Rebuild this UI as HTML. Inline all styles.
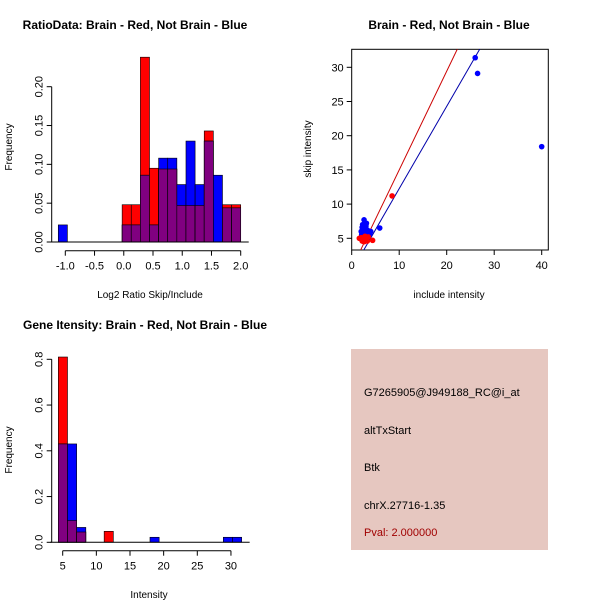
<!DOCTYPE html>
<html><head><meta charset="utf-8"><style>
body{margin:0;background:#fff}
svg{display:block;font-family:"Liberation Sans",sans-serif}
</style></head><body>
<svg id="c" width="600" height="600" xmlns="http://www.w3.org/2000/svg">
<rect width="600" height="600" fill="#fff"/>
<text x="135" y="29" font-size="12" font-weight="bold" text-anchor="middle">RatioData: Brain - Red, Not Brain - Blue</text>
<text x="449" y="29" font-size="12" font-weight="bold" text-anchor="middle">Brain - Red, Not Brain - Blue</text>
<text x="145" y="329" font-size="12" font-weight="bold" text-anchor="middle">Gene Itensity: Brain - Red, Not Brain - Blue</text>
<text x="150" y="298" font-size="10" text-anchor="middle">Log2 Ratio Skip/Include</text>
<text transform="translate(12,147) rotate(-90)" font-size="10" text-anchor="middle">Frequency</text>
<text x="449" y="298" font-size="10" text-anchor="middle">include intensity</text>
<text transform="translate(311,149) rotate(-90)" font-size="10" text-anchor="middle">skip intensity</text>
<text x="149" y="598" font-size="10" text-anchor="middle">Intensity</text>
<text transform="translate(12,450) rotate(-90)" font-size="10" text-anchor="middle">Frequency</text>
<g id="g1"></g>
<g id="g2"></g>
<g id="g3"></g>
<rect x="351" y="349" width="197" height="201" fill="#e6c7c0"/>
<g font-size="11">
<text x="364" y="396">G7265905@J949188_RC@i_at</text>
<text x="364" y="434">altTxStart</text>
<text x="364" y="471">Btk</text>
<text x="364" y="509">chrX.27716-1.35</text>
<text x="364" y="536" fill="#a00000">Pval: 2.000000</text>
</g>
</svg>
<script>
// Ratio histogram data (20 bins from -1.12 to 2.0)
const ratioRed=[0,0,0,0,0,0,0,0.048,0.048,0.238,0.095,0.094,0.094,0.047,0.047,0.047,0.143,0,0.048,0.048];
const ratioBlue=[0.022,0,0,0,0,0,0,0.022,0.022,0.086,0.022,0.108,0.108,0.074,0.130,0.074,0.130,0.086,0.044,0.044];
const ratioXTicks=[-1.0,-0.5,0.0,0.5,1.0,1.5,2.0];
const ratioYTicks=[0.00,0.05,0.10,0.15,0.20];
// Scatter data
const blueX=[26,26.5,40,5.9,2.0,2.3,2.6,3.0,3.3,2.1,2.8,3.5,2.5,3.1,2.2,3.8,2.7,4.0,2.4,3.2];
const blueY=[31.4,29.1,18.4,6.5,6.0,7.0,7.7,6.8,6.2,5.5,5.8,5.3,6.4,7.2,6.6,5.6,5.0,6.0,5.2,5.9];
const redX=[8.5,1.6,2.2,2.6,3.0,3.5,4.4,2.0,3.3,2.8];
const redY=[11.2,5.0,4.6,4.5,4.9,5.2,4.7,5.1,4.6,5.3];
const redLine=[1.443,0.57];
const blueLine=[1.203,0.23];
const scatXTicks=[0,10,20,30,40];
const scatYTicks=[5,10,15,20,25,30];
// Intensity histogram (20 bins from 4.35, width 1.362)
const intRed=[0.81,0.095,0.045,0,0,0.048,0,0,0,0,0,0,0,0,0,0,0,0,0,0];
const intBlue=[0.43,0.43,0.065,0,0,0,0,0,0,0,0.022,0,0,0,0,0,0,0,0.022,0.022];
const intXTicks=[5,10,15,20,25,30];
const intYTicks=[0.0,0.2,0.4,0.6,0.8];

const NS="http://www.w3.org/2000/svg";
function mk(p,tag,a){const e=document.createElementNS(NS,tag);for(const k in a)e.setAttribute(k,a[k]);p.appendChild(e);return e;}

function hist(g,red,blue,start,width,xs,ys,xt,yt,yAxisX,xAxisY,fmtY,fmtX,pre){
  red.forEach((r,i)=>{
    const b=blue[i],x0=xs(start+i*width),x1=xs(start+(i+1)*width);
    if(r>0){const e=mk(g,'rect',{x:x0,y:ys(r),width:x1-x0,height:ys(0)-ys(r),fill:'#ff0000',stroke:'#000','stroke-width':0.6});
      
      }
    if(b>0){const e=mk(g,'rect',{x:x0,y:ys(b),width:x1-x0,height:ys(0)-ys(b),fill:'#0000ff',stroke:'#000','stroke-width':0.6});
      
      }
    const m=Math.min(r,b);
    if(m>0){const e=mk(g,'rect',{x:x0,y:ys(m),width:x1-x0,height:ys(0)-ys(m),fill:'#800080',stroke:'#000','stroke-width':0.6});
      
      }
  });
  mk(g,'line',{x1:xs(start)-8,x2:xs(start+20*width)+8,y1:ys(0),y2:ys(0),stroke:'#000'});
  mk(g,'line',{x1:yAxisX,x2:yAxisX,y1:ys(yt[0]),y2:ys(yt[yt.length-1]),stroke:'#000'});
  yt.forEach(v=>{mk(g,'line',{x1:yAxisX-5,x2:yAxisX,y1:ys(v),y2:ys(v),stroke:'#000'});
    const t=mk(g,'text',{transform:`translate(${yAxisX-9},${ys(v)}) rotate(-90)`,'font-size':11,'text-anchor':'middle'});t.textContent=fmtY(v);
    
    });
  mk(g,'line',{x1:xs(xt[0]),x2:xs(xt[xt.length-1]),y1:xAxisY,y2:xAxisY,stroke:'#000'});
  xt.forEach(v=>{mk(g,'line',{x1:xs(v),x2:xs(v),y1:xAxisY,y2:xAxisY+5,stroke:'#000'});
    const t=mk(g,'text',{x:xs(v),y:xAxisY+19,'font-size':11,'text-anchor':'middle'});t.textContent=fmtX(v);
    
    });
}
// ratio hist
const rx=v=>65.3+(v+1)*58.47, ry=v=>242-v*776.5;
hist(document.getElementById('g1'),ratioRed,ratioBlue,-1.12,0.156,rx,ry,ratioXTicks,ratioYTicks,51.7,250.7,v=>v.toFixed(2),v=>v.toFixed(1),'ratio');
// intensity hist
const ix=v=>62.7+(v-5)*6.73, iy=v=>542.3-v*228.75;
hist(document.getElementById('g3'),intRed,intBlue,4.35,1.362,ix,iy,intXTicks,intYTicks,51.7,550.7,v=>v.toFixed(1),v=>String(v),'intensity');
// scatter
const g2=document.getElementById('g2');
const sx=v=>351.7+v*4.75, sy=v=>238.3-(v-5)*6.84;
const L=351.7,R=548.3,T=49.3,B=250;
mk(g2,'defs',{}).innerHTML='<clipPath id="cp"><rect x="351.7" y="49.3" width="196.6" height="200.7"/></clipPath>';
mk(g2,'rect',{x:L,y:T,width:R-L,height:B-T,fill:'none',stroke:'#000'});
scatXTicks.forEach(v=>{mk(g2,'line',{x1:sx(v),x2:sx(v),y1:B,y2:B+5,stroke:'#000'});
  const t=mk(g2,'text',{x:sx(v),y:B+19,'font-size':11,'text-anchor':'middle'});t.textContent=v;
  
  });
scatYTicks.forEach(v=>{mk(g2,'line',{x1:L-5,x2:L,y1:sy(v),y2:sy(v),stroke:'#000'});
  const t=mk(g2,'text',{x:L-8,y:sy(v)+4,'font-size':11,'text-anchor':'end'});t.textContent=v;
  
  });
const lc=mk(g2,'g',{'clip-path':'url(#cp)'});
[[redLine,'#cc0000','red-fit-line'],[blueLine,'#0000aa','blue-fit-line']].forEach(([p,c,n])=>{
  const e=mk(lc,'line',{x1:sx(-5),y1:sy(p[0]*-5+p[1]),x2:sx(45),y2:sy(p[0]*45+p[1]),stroke:c,'stroke-width':1});
  
  });
blueX.forEach((v,i)=>{const e=mk(g2,'circle',{cx:sx(v),cy:sy(blueY[i]),r:2.8,fill:'#0000ff'});
  
  });
redX.forEach((v,i)=>{const e=mk(g2,'circle',{cx:sx(v),cy:sy(redY[i]),r:2.8,fill:'#ff0000'});
  
  });
</script>
</body></html>
